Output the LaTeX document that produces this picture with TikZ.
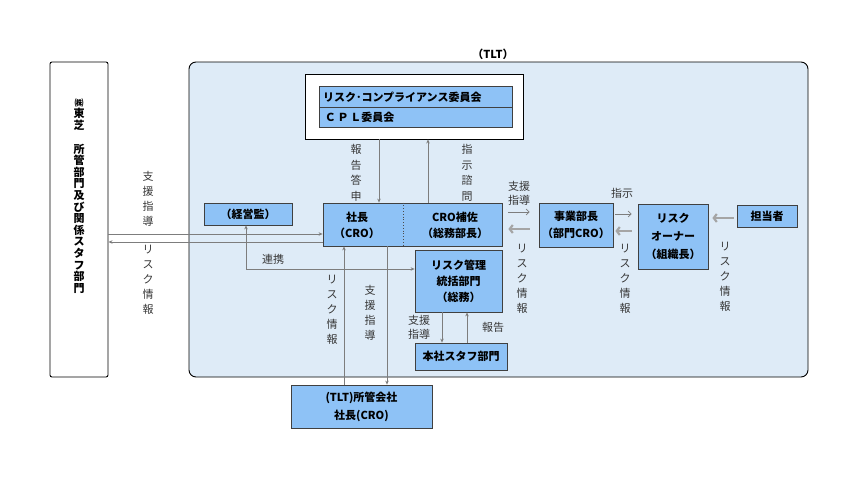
\documentclass[tikz,border=0pt]{standalone}
\usepackage{fontspec}
\setmainfont{Noto Sans CJK JP}
\usetikzlibrary{arrows.meta}
\definecolor{bluebox}{RGB}{142,194,246}
\definecolor{tltbg}{RGB}{222,235,247}
\definecolor{arrgray}{RGB}{125,125,125}
\definecolor{thickgray}{RGB}{165,165,165}
\definecolor{lblcol}{RGB}{55,55,55}
\begin{document}
\begin{tikzpicture}[x=1pt,y=-1pt,
  box/.style={draw=black!75, fill=bluebox, line width=0.8pt, inner sep=0pt,
    align=center, font=\bfseries\fontsize{11}{16}\selectfont},
  boxtext/.style={inner sep=0pt, align=center, font=\bfseries\fontsize{11}{16}\selectfont},
  frame/.style={draw=black, line width=0.9pt, inner sep=0pt},
  conn/.style={draw=arrgray, line width=0.8pt, -{Stealth[length=4pt,width=3.5pt]}},
  conn2/.style={draw=arrgray, line width=0.8pt, {Stealth[length=4pt,width=3.5pt]}-{Stealth[length=4pt,width=3.5pt]}},
  thinarr/.style={draw=arrgray, line width=0.7pt, -{Straight Barb[length=3pt,width=6pt]}},
  thickarr/.style={draw=thickgray, line width=2.2pt, -{Straight Barb[length=3pt,width=8pt]}},
  lbl/.style={inner sep=0pt, align=center, text=lblcol, font=\fontsize{11}{15}\selectfont}
]
\useasboundingbox (0,0) rectangle (860,479);

% frames
\node[frame, fill=white, rounded corners=2pt, minimum width=58pt, minimum height=315pt] (L) at (79,219.5) {};
\node[frame, fill=tltbg, rounded corners=7pt, minimum width=619pt, minimum height=315pt] (TLT) at (498.5,219.5) {};
\node[inner sep=0pt, font=\bfseries\fontsize{11}{12}\selectfont] (TLTl) at (493,54) {（TLT）};

% left vertical text
\node[inner sep=0pt, align=center, font=\bfseries\fontsize{11}{11.6}\selectfont] (Lt) at (79,196)
  {{\fontsize{9}{11.6}\selectfont ㈱}\\東\\芝\\[12pt]所\\管\\部\\門\\及\\び\\関\\係\\ス\\タ\\フ\\部\\門};

% committee
\node[frame, fill=white, minimum width=218pt, minimum height=65pt] (CM) at (414,106.5) {};
\node[box, text width=185pt, inner xsep=4pt, minimum height=20.5pt, align=left] (R1) at (415.5,97) {リスク･コンプライアンス委員会};
\node[box, text width=185pt, inner xsep=4pt, minimum height=20.5pt, align=left] (R2) at (415.5,117.5) {\,Ｃ\,Ｐ\,Ｌ委員会};

% boxes
\node[box, minimum width=179pt, minimum height=43pt] (S) at (412.5,224.5) {};
\draw[dotted, line width=0.8pt, black!70] (S.north -| 403,0) -- (S.south -| 403,0);
\node[boxtext] (St) at (357,225) {社長\\（CRO）};
\node[boxtext] (Ht) at (455,225) {CRO補佐\\（総務部長）};

\node[box, minimum width=87pt, minimum height=62pt] (RM) at (458.5,281) {リスク管理\\統括部門\\（総務）};
\node[box, minimum width=92pt, minimum height=27pt] (HQ) at (461,356.5) {本社スタフ部門};
\node[box, minimum width=88pt, minimum height=22pt] (K) at (248,214) {（経営監）};
\node[box, minimum width=141pt, minimum height=43pt, font=\bfseries\fontsize{11}{18}\selectfont] (C) at (361.5,406.5) {(TLT)所管会社\\社長(CRO)};
\node[box, minimum width=74pt, minimum height=44pt, font=\bfseries\fontsize{11}{17}\selectfont] (J) at (576,225) {事業部長\\（部門CRO）};
\node[box, minimum width=70pt, minimum height=65pt, font=\bfseries\fontsize{11}{18}\selectfont] (O) at (673,236.5) {リスク\\オーナー\\（組織長）};
\node[box, minimum width=60pt, minimum height=22pt] (T) at (767,216) {担当者};

% connectors
\draw[conn] (L.east |- 0,234) -- (S.west |- 0,234);
\draw[conn] (S.west |- 0,242) -- (L.east |- 0,242);
\draw[conn] (CM.south -| 379,0) -- (S.north -| 379,0);
\draw[conn] (S.north -| 428,0) -- (CM.south -| 428,0);
\draw[conn] (C.north -| 344,0) -- (S.south -| 344,0);
\draw[conn] (S.south -| 387,0) -- (C.north -| 387,0);
\draw[conn2] (K.south -| 246,0) |- (RM.west |- 0,269);
\draw[conn] (RM.south -| 442,0) -- (HQ.north -| 442,0);
\draw[conn] (HQ.north -| 467,0) -- (RM.south -| 467,0);

\draw[thinarr, shorten <=6pt, shorten >=9pt] (S.east |- 0,212) -- (J.west |- 0,212);
\draw[thickarr, shorten <=9pt, shorten >=6pt] (J.west |- 0,229) -- (S.east |- 0,229);
\draw[thinarr, shorten <=2pt, shorten >=6pt] (J.east |- 0,214) -- (O.west |- 0,214);
\draw[thickarr, shorten <=6pt, shorten >=2pt] (O.west |- 0,231) -- (J.east |- 0,231);
\draw[thickarr, shorten <=3pt, shorten >=4pt] (T.west |- 0,218) -- (O.east |- 0,218);

% labels
\node[lbl] (l1) at (148,198.5) {支\\援\\指\\導};
\node[lbl] (l2) at (148,280) {リ\\ス\\ク\\情\\報};
\node[lbl, font=\fontsize{11}{15.5}\selectfont] (l3) at (356,173) {報\\告\\答\\申};
\node[lbl, font=\fontsize{11}{15.5}\selectfont] (l4) at (467,173) {指\\示\\諮\\問};
\node[lbl] (l5) at (273,259) {連携};
\node[lbl] (l6) at (332,310) {リ\\ス\\ク\\情\\報};
\node[lbl] (l7) at (370,313) {支\\援\\指\\導};
\node[lbl, font=\fontsize{11}{14}\selectfont] (l8) at (419,327.5) {支援\\指導};
\node[lbl] (l9) at (493,327) {報告};
\node[lbl, font=\fontsize{11}{14}\selectfont] (l10) at (519,193) {支援\\指導};
\node[lbl] (l11) at (522,279) {リ\\ス\\ク\\情\\報};
\node[lbl] (l12) at (622,193) {指示};
\node[lbl] (l13) at (625,279) {リ\\ス\\ク\\情\\報};
\node[lbl] (l14) at (725,277) {リ\\ス\\ク\\情\\報};
\end{tikzpicture}
\end{document}
